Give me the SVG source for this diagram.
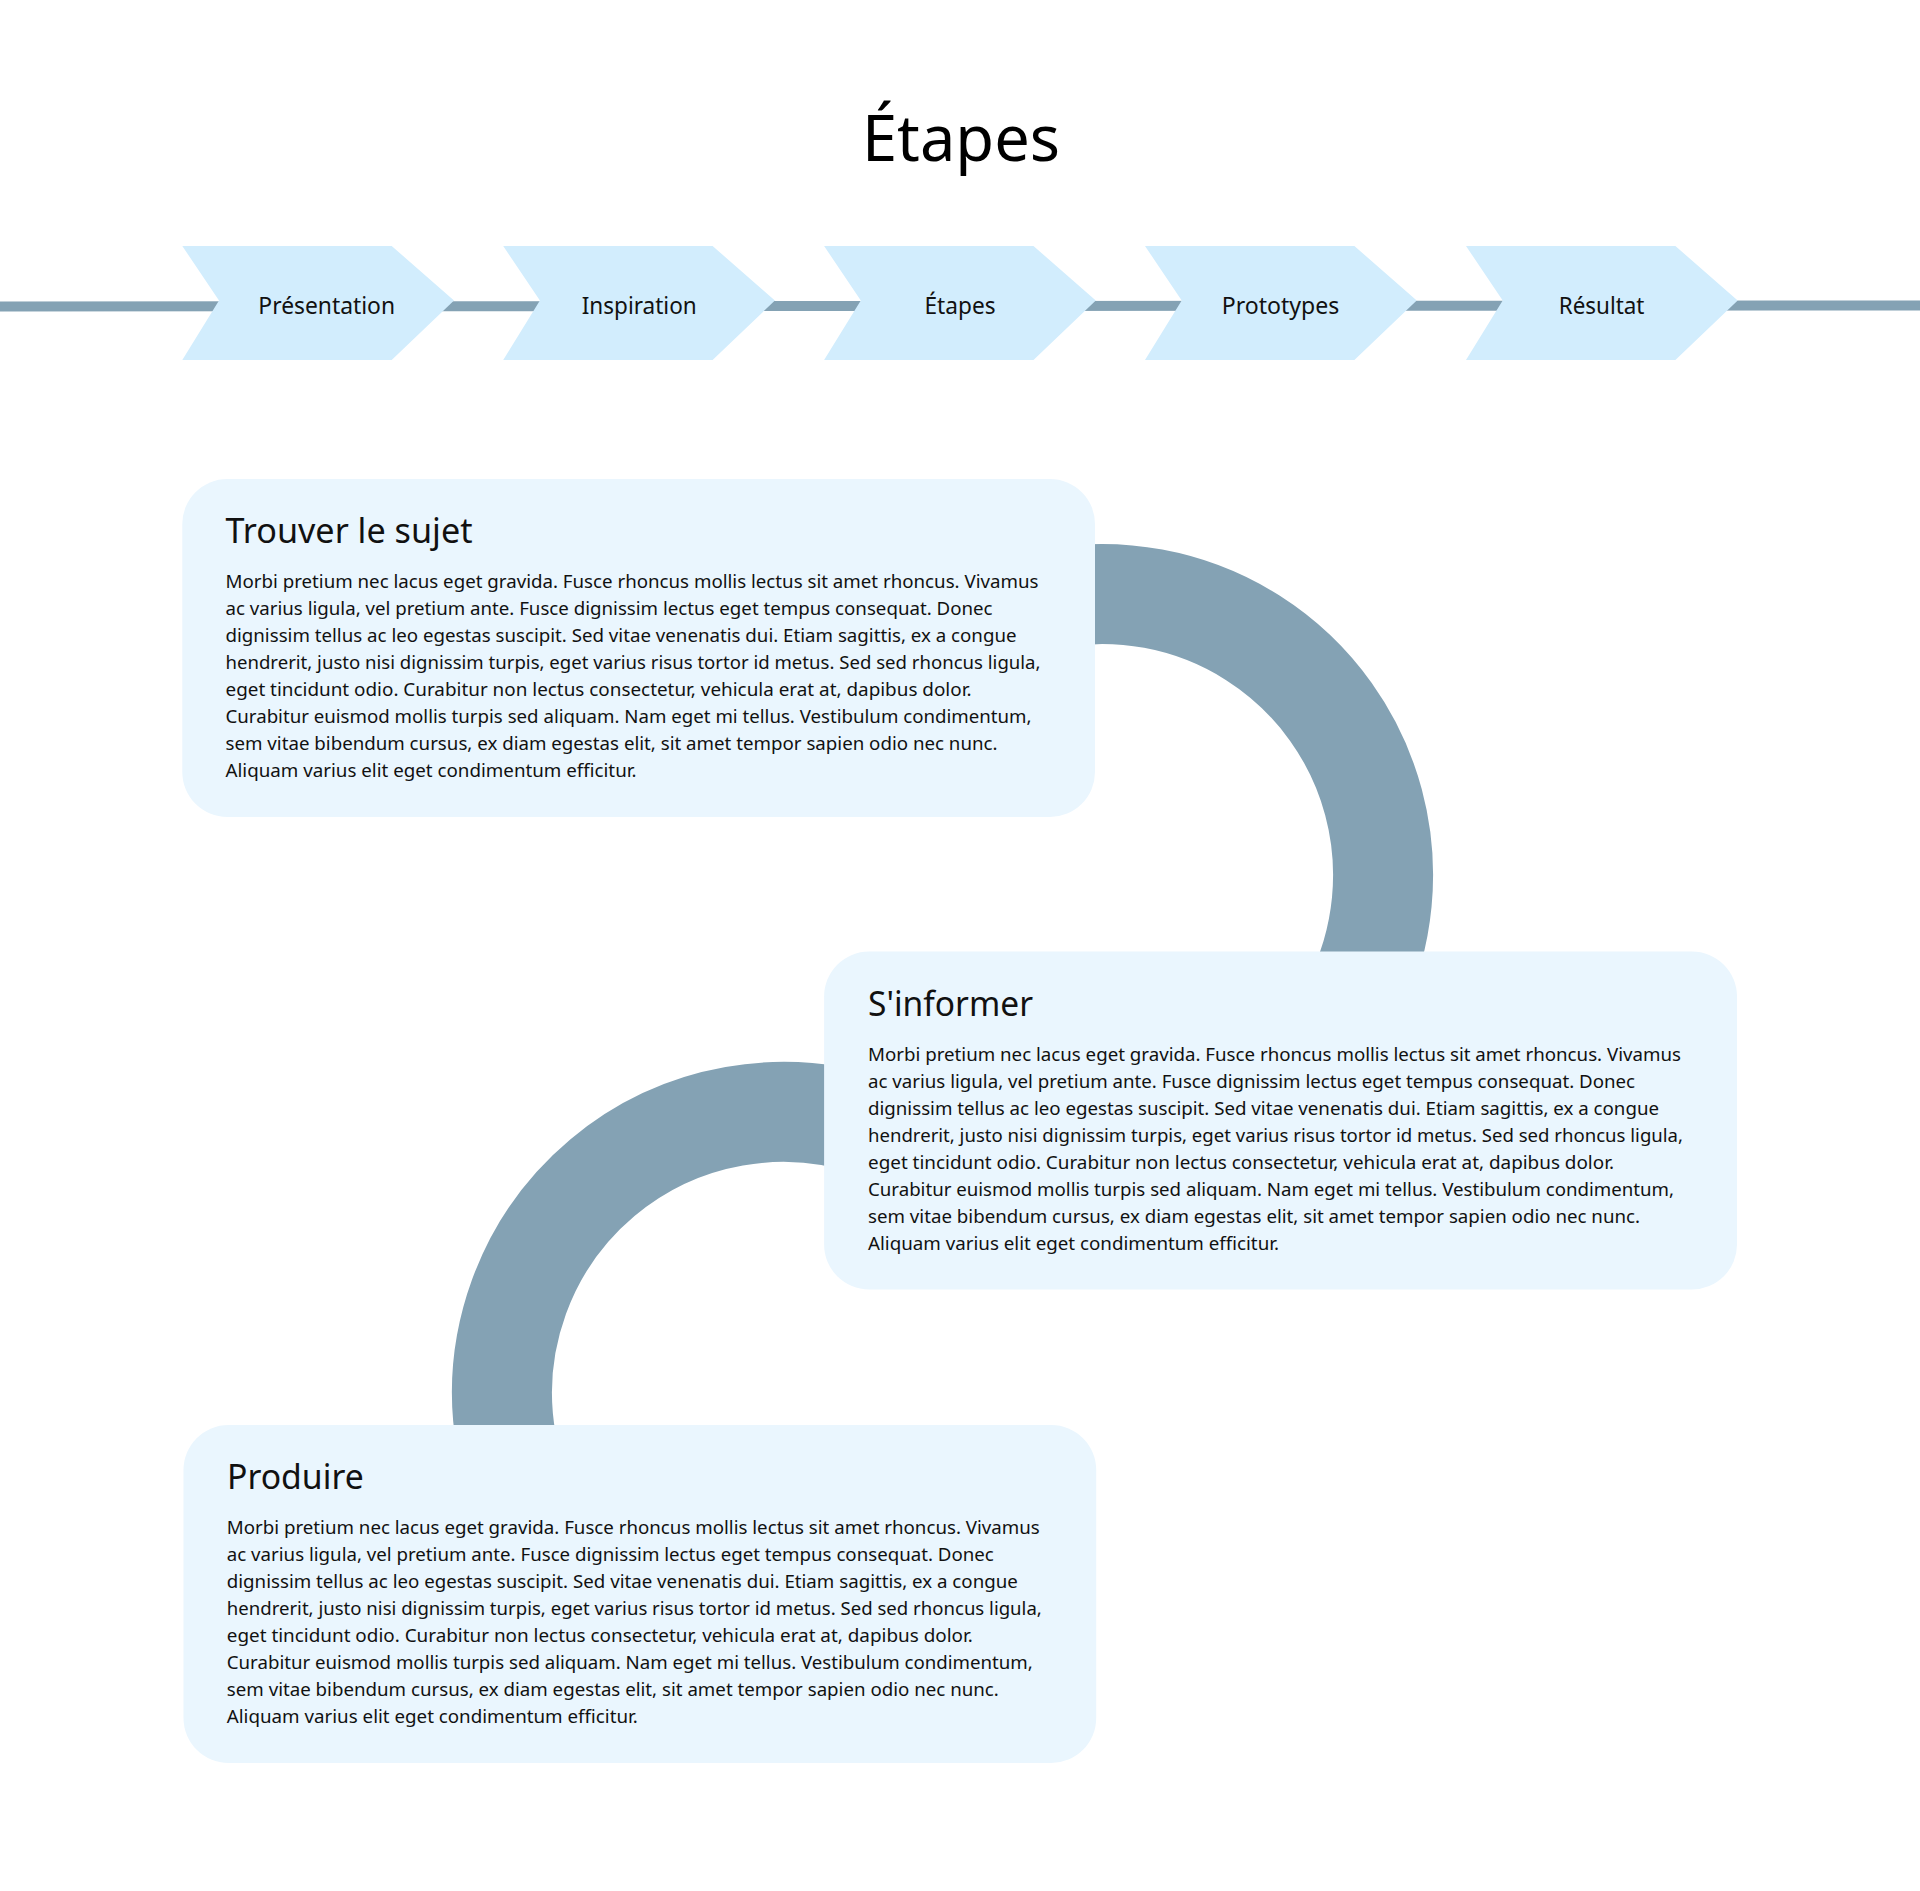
<svg xmlns="http://www.w3.org/2000/svg" xmlns:xlink="http://www.w3.org/1999/xlink" width="1920" height="1891" viewBox="0 0 1920 1891">
<defs>
<style>
.bg{fill:#ffffff}
.chev{fill:#d2edfd}
.box{fill:#eaf6fe}
.conn{fill:none;stroke:#84a2b4}
.title{font-family:"Segoe UI","Noto Sans",sans-serif;font-size:64px;fill:#000;text-anchor:middle}
.lab{font-family:"Segoe UI","Noto Sans",sans-serif;font-size:23px;fill:#111;text-anchor:middle}
.head{font-family:"Segoe UI","Noto Sans",sans-serif;font-size:34px;fill:#111}
.body{font-family:"Segoe UI","Noto Sans",sans-serif;font-size:18.5px;fill:#111}
</style>
<polygon id="chevShape" class="chev" points="0,246 209.4,246 271.7,300.5 209.4,360 0,360 36.7,300.5"/>
</defs>
<rect class="bg" x="0" y="0" width="1920" height="1891"/>

<g id="connectors">
<line class="conn" x1="0" y1="306.5" x2="1920" y2="305.5" stroke-width="10"/>
<path id="arc1" class="conn" stroke-width="100" d="M 1053.2 598.3 A 281 281 0 0 1 1198.1 1139.1"/>
<path id="arc2" class="conn" stroke-width="100" d="M 879.1 1128.9 A 281 281 0 0 0 506.3 1441.8"/>
</g>

<g id="title">
<text class="title" x="961" y="161" textLength="198" lengthAdjust="spacingAndGlyphs">Étapes</text>
</g>

<g id="step-presentation">
<use xlink:href="#chevShape" href="#chevShape" x="182.3"/>
<text class="lab" x="326.7" y="313.5" textLength="136.7" lengthAdjust="spacingAndGlyphs">Présentation</text>
</g>
<g id="step-inspiration">
<use xlink:href="#chevShape" href="#chevShape" x="503.2"/>
<text class="lab" x="639.2" y="313.5" textLength="115" lengthAdjust="spacingAndGlyphs">Inspiration</text>
</g>
<g id="step-etapes">
<use xlink:href="#chevShape" href="#chevShape" x="824.1"/>
<text class="lab" x="960" y="313.5" textLength="71" lengthAdjust="spacingAndGlyphs">Étapes</text>
</g>
<g id="step-prototypes">
<use xlink:href="#chevShape" href="#chevShape" x="1145"/>
<text class="lab" x="1280.5" y="313.5" textLength="117.6" lengthAdjust="spacingAndGlyphs">Prototypes</text>
</g>
<g id="step-resultat">
<use xlink:href="#chevShape" href="#chevShape" x="1466"/>
<text class="lab" x="1601.6" y="313.5" textLength="85.7" lengthAdjust="spacingAndGlyphs">Résultat</text>
</g>

<g id="card-trouver">
<rect class="box" x="182.3" y="479" width="912.7" height="338" rx="45" ry="45"/>
<text class="head" x="225.5" y="543" textLength="247" lengthAdjust="spacingAndGlyphs">Trouver le sujet</text>
<text class="body" x="225.5" y="588" textLength="813" lengthAdjust="spacingAndGlyphs">Morbi pretium nec lacus eget gravida. Fusce rhoncus mollis lectus sit amet rhoncus. Vivamus</text>
<text class="body" x="225.5" y="615" textLength="767" lengthAdjust="spacingAndGlyphs">ac varius ligula, vel pretium ante. Fusce dignissim lectus eget tempus consequat. Donec</text>
<text class="body" x="225.5" y="642" textLength="791" lengthAdjust="spacingAndGlyphs">dignissim tellus ac leo egestas suscipit. Sed vitae venenatis dui. Etiam sagittis, ex a congue</text>
<text class="body" x="225.5" y="669" textLength="815" lengthAdjust="spacingAndGlyphs">hendrerit, justo nisi dignissim turpis, eget varius risus tortor id metus. Sed sed rhoncus ligula,</text>
<text class="body" x="225.5" y="696" textLength="746" lengthAdjust="spacingAndGlyphs">eget tincidunt odio. Curabitur non lectus consectetur, vehicula erat at, dapibus dolor.</text>
<text class="body" x="225.5" y="723" textLength="806" lengthAdjust="spacingAndGlyphs">Curabitur euismod mollis turpis sed aliquam. Nam eget mi tellus. Vestibulum condimentum,</text>
<text class="body" x="225.5" y="750" textLength="772" lengthAdjust="spacingAndGlyphs">sem vitae bibendum cursus, ex diam egestas elit, sit amet tempor sapien odio nec nunc.</text>
<text class="body" x="225.5" y="777" textLength="411" lengthAdjust="spacingAndGlyphs">Aliquam varius elit eget condimentum efficitur.</text>
</g>

<g id="card-sinformer">
<rect class="box" x="824.1" y="951.5" width="912.9" height="338" rx="45" ry="45"/>
<text class="head" x="868" y="1016" textLength="165" lengthAdjust="spacingAndGlyphs">S'informer</text>
<text class="body" x="868" y="1061" textLength="813" lengthAdjust="spacingAndGlyphs">Morbi pretium nec lacus eget gravida. Fusce rhoncus mollis lectus sit amet rhoncus. Vivamus</text>
<text class="body" x="868" y="1088" textLength="767" lengthAdjust="spacingAndGlyphs">ac varius ligula, vel pretium ante. Fusce dignissim lectus eget tempus consequat. Donec</text>
<text class="body" x="868" y="1115" textLength="791" lengthAdjust="spacingAndGlyphs">dignissim tellus ac leo egestas suscipit. Sed vitae venenatis dui. Etiam sagittis, ex a congue</text>
<text class="body" x="868" y="1142" textLength="815" lengthAdjust="spacingAndGlyphs">hendrerit, justo nisi dignissim turpis, eget varius risus tortor id metus. Sed sed rhoncus ligula,</text>
<text class="body" x="868" y="1169" textLength="746" lengthAdjust="spacingAndGlyphs">eget tincidunt odio. Curabitur non lectus consectetur, vehicula erat at, dapibus dolor.</text>
<text class="body" x="868" y="1196" textLength="806" lengthAdjust="spacingAndGlyphs">Curabitur euismod mollis turpis sed aliquam. Nam eget mi tellus. Vestibulum condimentum,</text>
<text class="body" x="868" y="1223" textLength="772" lengthAdjust="spacingAndGlyphs">sem vitae bibendum cursus, ex diam egestas elit, sit amet tempor sapien odio nec nunc.</text>
<text class="body" x="868" y="1250" textLength="411" lengthAdjust="spacingAndGlyphs">Aliquam varius elit eget condimentum efficitur.</text>
</g>

<g id="card-produire">
<rect class="box" x="183.5" y="1425" width="912.7" height="338" rx="45" ry="45"/>
<text class="head" x="227" y="1489" textLength="136.7" lengthAdjust="spacingAndGlyphs">Produire</text>
<text class="body" x="226.8" y="1534" textLength="813" lengthAdjust="spacingAndGlyphs">Morbi pretium nec lacus eget gravida. Fusce rhoncus mollis lectus sit amet rhoncus. Vivamus</text>
<text class="body" x="226.8" y="1561" textLength="767" lengthAdjust="spacingAndGlyphs">ac varius ligula, vel pretium ante. Fusce dignissim lectus eget tempus consequat. Donec</text>
<text class="body" x="226.8" y="1588" textLength="791" lengthAdjust="spacingAndGlyphs">dignissim tellus ac leo egestas suscipit. Sed vitae venenatis dui. Etiam sagittis, ex a congue</text>
<text class="body" x="226.8" y="1615" textLength="815" lengthAdjust="spacingAndGlyphs">hendrerit, justo nisi dignissim turpis, eget varius risus tortor id metus. Sed sed rhoncus ligula,</text>
<text class="body" x="226.8" y="1642" textLength="746" lengthAdjust="spacingAndGlyphs">eget tincidunt odio. Curabitur non lectus consectetur, vehicula erat at, dapibus dolor.</text>
<text class="body" x="226.8" y="1669" textLength="806" lengthAdjust="spacingAndGlyphs">Curabitur euismod mollis turpis sed aliquam. Nam eget mi tellus. Vestibulum condimentum,</text>
<text class="body" x="226.8" y="1696" textLength="772" lengthAdjust="spacingAndGlyphs">sem vitae bibendum cursus, ex diam egestas elit, sit amet tempor sapien odio nec nunc.</text>
<text class="body" x="226.8" y="1723" textLength="411" lengthAdjust="spacingAndGlyphs">Aliquam varius elit eget condimentum efficitur.</text>
</g>
</svg>
